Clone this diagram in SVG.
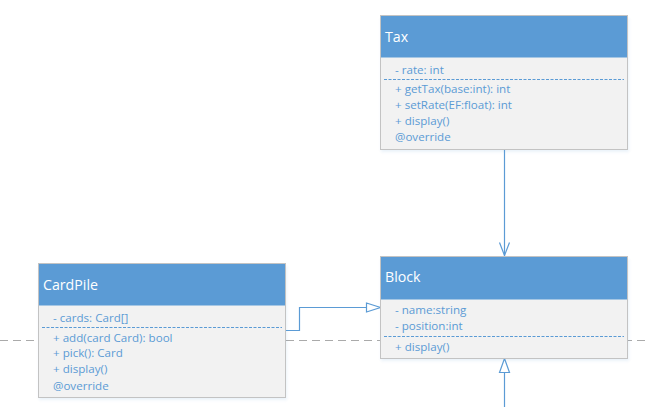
<svg xmlns="http://www.w3.org/2000/svg" width="645" height="407" viewBox="0 0 645 407">
<defs>
<style>
.box{fill:#f2f2f2;stroke:#c3c3c3;stroke-width:1}
.head{fill:#5b9bd5}
.shadow{fill:#5b9bd5;opacity:0.12}
.title{font-family:"Open Sans","Noto Sans","DejaVu Sans",sans-serif;font-size:14.2px;fill:#ffffff}
.mem{font-family:"Open Sans","Noto Sans","DejaVu Sans",sans-serif;font-size:11.6px;fill:#5b9bd5}
.sep{stroke:#5b9bd5;stroke-width:1;stroke-dasharray:3,1.5;fill:none}
.conn{stroke:#5b9bd5;stroke-width:1.2;fill:none}
.tri{stroke:#5b9bd5;stroke-width:1.2;fill:#ffffff}
.guide{stroke:#aaaaaa;stroke-width:1;stroke-dasharray:8,5;fill:none}
</style>
<filter id="blur" x="-10%" y="-10%" width="120%" height="130%"><feGaussianBlur stdDeviation="1.5"/></filter>
</defs>
<rect width="645" height="407" fill="#ffffff"/>
<line class="guide" x1="0" y1="340.5" x2="645" y2="340.5"/>

<g id="connectors">
<line class="conn" x1="504.5" y1="149" x2="504.5" y2="255.5"/>
<polyline class="conn" points="499.5,242.5 504.5,255.5 509.5,242.5"/>
<polyline class="conn" points="286,330.5 299.5,330.5 299.5,307.5 367,307.5"/>
<polygon class="tri" points="366.5,303 380.5,307.5 366.5,312"/>
<line class="conn" x1="504.5" y1="372.5" x2="504.5" y2="407"/>
<polygon class="tri" points="499.5,372.5 504.5,358.5 509.5,372.5"/>
</g>

<g id="tax">
<rect class="shadow" x="381" y="18" width="248" height="134" filter="url(#blur)"/>
<rect class="box" x="380.5" y="15.5" width="247" height="134"/>
<rect class="head" x="381" y="16" width="246" height="41.5"/>
<text class="title" x="385" y="41.5">Tax</text>
<text class="mem" x="395" y="73.5">- rate: int</text>
<line class="sep" x1="384" y1="79.5" x2="624" y2="79.5"/>
<text class="mem" x="395" y="93">+ getTax(base:int): int</text>
<text class="mem" x="395" y="109">+ setRate(EF:float): int</text>
<text class="mem" x="395" y="125">+ display()</text>
<text class="mem" x="395" y="141">@override</text>
</g>

<g id="cardpile">
<rect class="shadow" x="39" y="266" width="248" height="134" filter="url(#blur)"/>
<rect class="box" x="38.5" y="263.5" width="247" height="134"/>
<rect class="head" x="39" y="264" width="246" height="41.5"/>
<text class="title" x="43" y="289.5">CardPile</text>
<text class="mem" x="53" y="322">- cards: Card[]</text>
<line class="sep" x1="42" y1="327.5" x2="282" y2="327.5"/>
<text class="mem" x="53" y="341.5">+ add(card Card): bool</text>
<text class="mem" x="53" y="357">+ pick(): Card</text>
<text class="mem" x="53" y="373">+ display()</text>
<text class="mem" x="53" y="389.5">@override</text>
</g>

<g id="block">
<rect class="shadow" x="381" y="259" width="248" height="102" filter="url(#blur)"/>
<rect class="box" x="380.5" y="256.5" width="247" height="102"/>
<rect class="head" x="381" y="257" width="246" height="42.5"/>
<text class="title" x="385" y="282">Block</text>
<text class="mem" x="395" y="314">- name:string</text>
<text class="mem" x="395" y="330">- position:int</text>
<line class="sep" x1="384" y1="336.5" x2="624" y2="336.5"/>
<text class="mem" x="395" y="350.5">+ display()</text>
</g>
</svg>
